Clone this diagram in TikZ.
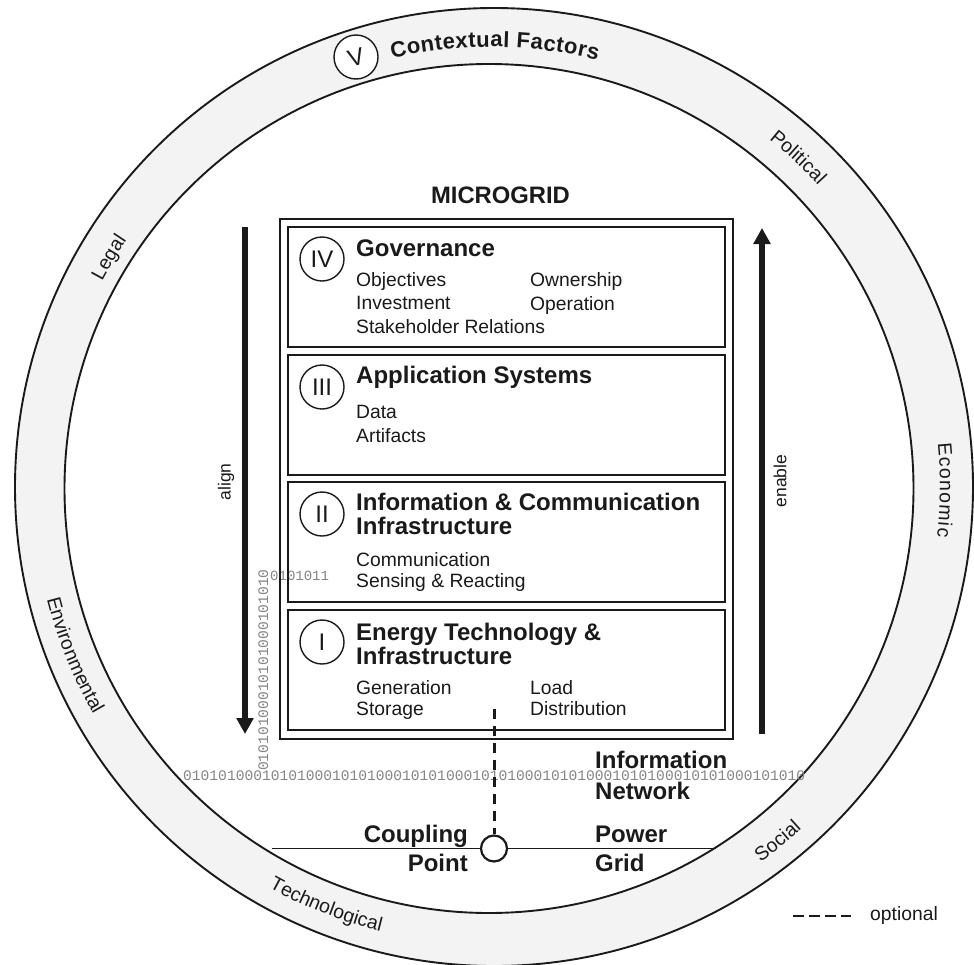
\documentclass[tikz,border=0pt]{standalone}
\usepackage{fontspec}
\setmainfont{Liberation Sans}
\newfontfamily\binfont{Liberation Mono}
\usetikzlibrary{decorations.text,arrows.meta}
\definecolor{ink}{HTML}{1A1A1A}
\definecolor{ringgray}{HTML}{F3F3F3}
\definecolor{bingray}{HTML}{858585}
\newcommand{\ringfont}{\fontsize{19.5}{19.5}\selectfont}
\newcommand{\headfont}{\bfseries\fontsize{24}{23.5}\selectfont}
\newcommand{\ringlabel}[4]{%
  \path[decorate,decoration={text along path,text align=center,
    text={|\ringfont\color{ink}|#4}}]
    ([shift={(491,-487)}]#1:#3) arc[start angle=#1,end angle=#2,radius=#3];}
\tikzset{
  x=1pt,y=1pt,
  layerbox/.style={draw=ink,line width=2pt},
  numcircle/.style={circle,draw=ink,line width=1.4pt,minimum size=44pt,inner sep=0pt,fill=white,
    text=ink,font=\fontsize{24}{24}\selectfont},
  head/.style={anchor=base west,inner sep=0pt,align=left,text=ink,font=\headfont},
  body/.style={anchor=base west,inner sep=0pt,align=left,text=ink,font=\fontsize{19.3}{23.2}\selectfont},
  bodytight/.style={anchor=base west,inner sep=0pt,align=left,text=ink,font=\fontsize{19.3}{20.6}\selectfont},
  bigarrow/.style={draw=ink,line width=5.2pt,-{Triangle[length=16pt,width=16.5pt]}},
  side/.style={inner sep=0pt,rotate=90,text=ink,font=\fontsize{17.5}{17.5}\selectfont},
  binary/.style={inner sep=0pt,text=bingray,font=\binfont\fontsize{14.6}{14.6}\selectfont},
  connector/.style={draw=ink,line width=1.9pt},
  optline/.style={draw=ink,line width=3pt,dash pattern=on 10pt off 7pt},
}
\begin{document}
\begin{tikzpicture}
\useasboundingbox (0,-964) rectangle (974,0);
\clip (0,-964) rectangle (974,0);
% ring
\fill[ringgray] (494,-487) circle[radius=479];
\draw[ink,line width=1.9pt] (494,-487) circle[radius=479];
\filldraw[fill=white,draw=ink,line width=1.9pt] (489,-488.5) circle[radius=424.5];
% ring labels
\path[decorate,decoration={text along path,text align={fit to path},
  text={|\bfseries\fontsize{22}{22}\selectfont\color{ink}|Contextual Factors}}]
  ([shift={(491,-487)}]103:440) arc[start angle=103,end angle=76,radius=440];
\ringlabel{174}{124}{440}{Legal}
\ringlabel{72}{22}{445}{Political}
\path[decorate,decoration={text along path,text align={fit to path},
  text={|\ringfont\color{ink}|Economic}}]
  ([shift={(491,-487)}]5.6:449) arc[start angle=5.6,end angle=-6.4,radius=449];
\ringlabel{172}{232}{458}{Environmental}
\ringlabel{218}{279}{458}{Technological}
\ringlabel{284}{334}{462}{Social}
\node[numcircle] (five) at (356,-57) {\rotatebox{15}{V}};
% binary streams
\node[binary,anchor=base west] (binh) at (183,-780) {01010100010101000101010001010100010101000101010001010100010101000101010};
\node[binary,anchor=base,rotate=90] (binv) at (268,-670) {01010100010101000101010};
\node[binary,anchor=base west,font=\binfont\fontsize{14}{14}\selectfont] (binb) at (270,-580) {0101011};
% microgrid
\node[anchor=base,inner sep=0pt,text=ink,font=\bfseries\fontsize{23.8}{24}\selectfont] (mg) at (500.5,-203) {MICROGRID};
\draw[layerbox] (280,-219) rectangle (733,-739);
\draw[layerbox] (288,-227) rectangle (725,-347);
\draw[layerbox] (288,-355) rectangle (725,-475);
\draw[layerbox] (288,-482) rectangle (725,-602);
\draw[layerbox] (288,-610) rectangle (725,-730);
% layer IV
\node[numcircle] (four) at (322,-259) {IV};
\node[head] (h4) at (356,-256) {Governance};
\node[body] (b4a) at (356,-333) {Objectives\\Investment\\Stakeholder Relations};
\node[body] (b4b) at (530,-310) {Ownership\\Operation};
% layer III
\node[numcircle] (three) at (322,-387) {III};
\node[head] (h3) at (356,-383) {Application Systems};
\node[body] (b3) at (356,-442) {Data\\Artifacts};
% layer II
\node[numcircle] (two) at (322,-514) {II};
\node[head] (h2) at (356,-534) {Information \& Communication\\Infrastructure};
\node[bodytight] (b2) at (356,-587) {Communication\\Sensing \& Reacting};
% layer I
\node[numcircle] (one) at (322,-642) {I};
\node[head] (h1) at (356,-664) {Energy Technology \&\\Infrastructure};
\node[bodytight] (b1a) at (356,-715) {Generation\\Storage};
\node[bodytight] (b1b) at (530,-715) {Load\\Distribution};
% arrows
\coordinate (alignTop) at (245,-227);
\coordinate (alignEnd) at (245,-734);
\coordinate (enableBot) at (762,-734);
\coordinate (enableEnd) at (762,-228);
\draw[bigarrow] (alignTop) -- (alignEnd);
\draw[bigarrow] (enableBot) -- (enableEnd);
\node[side] (al) at (226,-482) {align};
\node[side] (en) at (780,-481) {enable};
% network / grid
\node[head] (info) at (595,-768) {Information};
\node[head] (net) at (595,-799) {Network};
\node[head,anchor=base east] (coup) at (468,-842) {Coupling};
\node[head,anchor=base east] (pt) at (468,-871) {Point};
\node[head] (pow) at (595,-842) {Power};
\node[head] (grid) at (595,-871) {Grid};
\coordinate (gridL) at (272,-848.5);
\coordinate (gridR) at (716,-848.5);
\coordinate (dashTop) at (494,-709);
\node[circle,draw=ink,line width=2.2pt,fill=white,minimum size=26pt,inner sep=0pt] (cp) at (494,-848.5) {};
\draw[connector] (gridL) -- (cp);
\draw[connector] (cp) -- (gridR);
\draw[optline] (dashTop) -- (cp);
% legend
\coordinate (legA) at (793,-916);
\coordinate (legB) at (851,-916);
\draw[ink,line width=2.7pt,dash pattern=on 10.5pt off 5.5pt] (legA) -- (legB);
\node[body] (opt) at (870,-920) {optional};
\end{tikzpicture}
\end{document}
